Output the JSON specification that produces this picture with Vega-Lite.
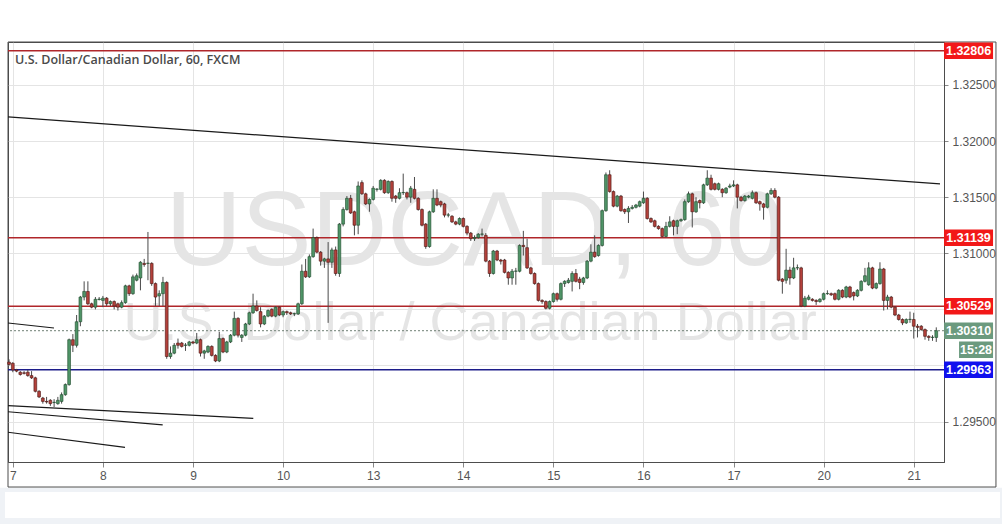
{
"$schema": "https://vega.github.io/schema/vega-lite/v6.json",
"width": 936, "height": 420,
"autosize": {"type": "none"},
"padding": {"left": 8, "top": 42, "right": 58, "bottom": 62},
"background": "#ffffff",
"config": {"view": {"stroke": "#4d4d4d", "strokeWidth": 1}, "font": "Liberation Sans"},
"datasets": {
"candles": [
{"t":-1,"o":1.3003,"h":1.30055,"l":1.3,"c":1.3001},
{"t":0,"o":1.3002,"h":1.3003,"l":1.2994,"c":1.2996},
{"t":1,"o":1.2996,"h":1.2997,"l":1.2994,"c":1.2995},
{"t":2,"o":1.2994,"h":1.2995,"l":1.2991,"c":1.2992},
{"t":3,"o":1.29935,"h":1.2995,"l":1.2992,"c":1.2993},
{"t":4,"o":1.2994,"h":1.2996,"l":1.299,"c":1.2991},
{"t":5,"o":1.2991,"h":1.2995,"l":1.2988,"c":1.2989},
{"t":6,"o":1.2989,"h":1.299,"l":1.2976,"c":1.2977},
{"t":7,"o":1.2977,"h":1.2978,"l":1.2971,"c":1.2972},
{"t":8,"o":1.2971,"h":1.2972,"l":1.2966,"c":1.2968},
{"t":9,"o":1.2968,"h":1.2972,"l":1.2966,"c":1.29675},
{"t":10,"o":1.2969,"h":1.297,"l":1.2964,"c":1.2966},
{"t":11,"o":1.2967,"h":1.297,"l":1.2963,"c":1.29672},
{"t":12,"o":1.2966,"h":1.2972,"l":1.2965,"c":1.2969},
{"t":13,"o":1.2968,"h":1.2976,"l":1.2966,"c":1.2974},
{"t":14,"o":1.2974,"h":1.2984,"l":1.2973,"c":1.2983},
{"t":15,"o":1.2983,"h":1.3024,"l":1.2982,"c":1.3023},
{"t":16,"o":1.3023,"h":1.3028,"l":1.3012,"c":1.3018},
{"t":17,"o":1.3018,"h":1.3045,"l":1.3016,"c":1.3039},
{"t":18,"o":1.3039,"h":1.3062,"l":1.3035,"c":1.3061},
{"t":19,"o":1.3061,"h":1.3075,"l":1.3058,"c":1.3066},
{"t":20,"o":1.3066,"h":1.3075,"l":1.3054,"c":1.3055},
{"t":21,"o":1.3055,"h":1.3056,"l":1.3051,"c":1.3052},
{"t":22,"o":1.3052,"h":1.3061,"l":1.305,"c":1.3059},
{"t":23,"o":1.30588,"h":1.3061,"l":1.3058,"c":1.30592},
{"t":24,"o":1.3058,"h":1.3062,"l":1.3052,"c":1.306},
{"t":25,"o":1.306,"h":1.3061,"l":1.3053,"c":1.3055},
{"t":26,"o":1.3055,"h":1.3058,"l":1.3053,"c":1.3057},
{"t":27,"o":1.3057,"h":1.3058,"l":1.305,"c":1.3053},
{"t":28,"o":1.3055,"h":1.3056,"l":1.3049,"c":1.3052},
{"t":29,"o":1.3052,"h":1.3058,"l":1.3051,"c":1.3056},
{"t":30,"o":1.3056,"h":1.3072,"l":1.3055,"c":1.3071},
{"t":31,"o":1.3071,"h":1.3072,"l":1.3062,"c":1.3064},
{"t":32,"o":1.3064,"h":1.3081,"l":1.3063,"c":1.3079},
{"t":33,"o":1.3076,"h":1.3082,"l":1.3075,"c":1.308},
{"t":34,"o":1.3078,"h":1.3093,"l":1.3067,"c":1.3092},
{"t":35,"o":1.3091,"h":1.3095,"l":1.3088,"c":1.309},
{"t":36,"o":1.3091,"h":1.3119,"l":1.3076,"c":1.30912},
{"t":37,"o":1.3091,"h":1.3092,"l":1.3071,"c":1.3073},
{"t":38,"o":1.3073,"h":1.3074,"l":1.3053,"c":1.3061},
{"t":39,"o":1.3062,"h":1.3067,"l":1.3053,"c":1.3064},
{"t":40,"o":1.3064,"h":1.3079,"l":1.3053,"c":1.3074},
{"t":41,"o":1.3074,"h":1.3075,"l":1.3006,"c":1.3008},
{"t":42,"o":1.3008,"h":1.3017,"l":1.3006,"c":1.3011},
{"t":43,"o":1.3011,"h":1.302,"l":1.301,"c":1.3018},
{"t":44,"o":1.302,"h":1.3024,"l":1.3015,"c":1.3018},
{"t":45,"o":1.302,"h":1.3021,"l":1.3016,"c":1.3017},
{"t":46,"o":1.3018,"h":1.302,"l":1.3013,"c":1.30182},
{"t":47,"o":1.3018,"h":1.3022,"l":1.3017,"c":1.3021},
{"t":48,"o":1.3021,"h":1.3022,"l":1.3019,"c":1.302},
{"t":49,"o":1.302,"h":1.3029,"l":1.3019,"c":1.3023},
{"t":50,"o":1.3023,"h":1.3024,"l":1.3008,"c":1.3011},
{"t":51,"o":1.3011,"h":1.3014,"l":1.3006,"c":1.3013},
{"t":52,"o":1.3012,"h":1.3018,"l":1.3011,"c":1.3017},
{"t":53,"o":1.3017,"h":1.3018,"l":1.3008,"c":1.3009},
{"t":54,"o":1.3009,"h":1.301,"l":1.3003,"c":1.3004},
{"t":55,"o":1.3004,"h":1.303,"l":1.3003,"c":1.3024},
{"t":56,"o":1.3024,"h":1.3025,"l":1.3011,"c":1.3012},
{"t":57,"o":1.3012,"h":1.3022,"l":1.3011,"c":1.3021},
{"t":58,"o":1.3021,"h":1.3028,"l":1.302,"c":1.3027},
{"t":59,"o":1.3027,"h":1.3048,"l":1.3026,"c":1.3042},
{"t":60,"o":1.3042,"h":1.3043,"l":1.3025,"c":1.3027},
{"t":61,"o":1.3025,"h":1.3028,"l":1.3021,"c":1.3027},
{"t":62,"o":1.3027,"h":1.3038,"l":1.3026,"c":1.3037},
{"t":63,"o":1.3037,"h":1.3048,"l":1.3036,"c":1.3047},
{"t":64,"o":1.3047,"h":1.3064,"l":1.3046,"c":1.3053},
{"t":65,"o":1.3053,"h":1.3058,"l":1.3048,"c":1.3049},
{"t":66,"o":1.3048,"h":1.3052,"l":1.3034,"c":1.3037},
{"t":67,"o":1.3037,"h":1.3045,"l":1.3036,"c":1.3044},
{"t":68,"o":1.3044,"h":1.305,"l":1.3043,"c":1.3049},
{"t":69,"o":1.305,"h":1.3051,"l":1.3043,"c":1.3044},
{"t":70,"o":1.3044,"h":1.3053,"l":1.3043,"c":1.3052},
{"t":71,"o":1.3052,"h":1.3053,"l":1.3044,"c":1.3045},
{"t":72,"o":1.3045,"h":1.3049,"l":1.3043,"c":1.3048},
{"t":73,"o":1.3048,"h":1.3049,"l":1.3045,"c":1.3047},
{"t":74,"o":1.3047,"h":1.3048,"l":1.3045,"c":1.3046},
{"t":75,"o":1.3046,"h":1.3047,"l":1.3044,"c":1.30462},
{"t":76,"o":1.3046,"h":1.3056,"l":1.3045,"c":1.3055},
{"t":77,"o":1.3055,"h":1.309,"l":1.3054,"c":1.3084},
{"t":78,"o":1.3084,"h":1.3095,"l":1.3078,"c":1.3079},
{"t":79,"o":1.3079,"h":1.3099,"l":1.3078,"c":1.3097},
{"t":80,"o":1.3097,"h":1.3122,"l":1.3096,"c":1.3114},
{"t":81,"o":1.3114,"h":1.3115,"l":1.31,"c":1.3101},
{"t":82,"o":1.3101,"h":1.3102,"l":1.3089,"c":1.3093},
{"t":83,"o":1.3093,"h":1.3096,"l":1.3087,"c":1.3095},
{"t":84,"o":1.3095,"h":1.311,"l":1.3038,"c":1.3092},
{"t":85,"o":1.3092,"h":1.3105,"l":1.3087,"c":1.3103},
{"t":86,"o":1.3103,"h":1.3106,"l":1.308,"c":1.3082},
{"t":87,"o":1.3082,"h":1.3127,"l":1.3079,"c":1.3126},
{"t":88,"o":1.3126,"h":1.3141,"l":1.3124,"c":1.3139},
{"t":89,"o":1.3139,"h":1.3151,"l":1.3138,"c":1.3149},
{"t":90,"o":1.3149,"h":1.3152,"l":1.3135,"c":1.3136},
{"t":91,"o":1.3137,"h":1.3138,"l":1.3116,"c":1.3125},
{"t":92,"o":1.3125,"h":1.3164,"l":1.3117,"c":1.316},
{"t":93,"o":1.3163,"h":1.3165,"l":1.3152,"c":1.3153},
{"t":94,"o":1.3153,"h":1.3154,"l":1.3143,"c":1.3144},
{"t":95,"o":1.3144,"h":1.3149,"l":1.3137,"c":1.3148},
{"t":96,"o":1.3148,"h":1.316,"l":1.3147,"c":1.3158},
{"t":97,"o":1.3157,"h":1.3158,"l":1.3155,"c":1.31572},
{"t":98,"o":1.3157,"h":1.3166,"l":1.3156,"c":1.3165},
{"t":99,"o":1.3165,"h":1.3166,"l":1.3153,"c":1.3154},
{"t":100,"o":1.3154,"h":1.3165,"l":1.3153,"c":1.3164},
{"t":101,"o":1.3164,"h":1.3165,"l":1.3146,"c":1.3149},
{"t":102,"o":1.3151,"h":1.3152,"l":1.3145,"c":1.3149},
{"t":103,"o":1.3149,"h":1.3158,"l":1.3148,"c":1.3154},
{"t":104,"o":1.3154,"h":1.3171,"l":1.3152,"c":1.31542},
{"t":105,"o":1.3154,"h":1.3155,"l":1.3148,"c":1.315},
{"t":106,"o":1.315,"h":1.316,"l":1.3145,"c":1.3158},
{"t":107,"o":1.3157,"h":1.3168,"l":1.3148,"c":1.3149},
{"t":108,"o":1.3149,"h":1.315,"l":1.3138,"c":1.3139},
{"t":109,"o":1.3139,"h":1.314,"l":1.3124,"c":1.3125},
{"t":110,"o":1.3126,"h":1.3127,"l":1.3104,"c":1.3106},
{"t":111,"o":1.3106,"h":1.3138,"l":1.3105,"c":1.3137},
{"t":112,"o":1.3137,"h":1.3157,"l":1.3136,"c":1.3149},
{"t":113,"o":1.3149,"h":1.3157,"l":1.3142,"c":1.3143},
{"t":114,"o":1.3146,"h":1.3147,"l":1.3141,"c":1.3143},
{"t":115,"o":1.3144,"h":1.3145,"l":1.3132,"c":1.3134},
{"t":116,"o":1.3134,"h":1.3136,"l":1.3132,"c":1.31342},
{"t":117,"o":1.3133,"h":1.3134,"l":1.3127,"c":1.3128},
{"t":118,"o":1.3128,"h":1.3129,"l":1.3125,"c":1.3126},
{"t":119,"o":1.3126,"h":1.3132,"l":1.3125,"c":1.3131},
{"t":120,"o":1.3131,"h":1.3132,"l":1.3123,"c":1.3124},
{"t":121,"o":1.3124,"h":1.3125,"l":1.3116,"c":1.3118},
{"t":122,"o":1.3118,"h":1.3119,"l":1.3111,"c":1.3113},
{"t":123,"o":1.3113,"h":1.3116,"l":1.3111,"c":1.3114},
{"t":124,"o":1.3114,"h":1.3118,"l":1.3113,"c":1.3117},
{"t":125,"o":1.3117,"h":1.3122,"l":1.3115,"c":1.31172},
{"t":126,"o":1.3116,"h":1.3118,"l":1.3092,"c":1.3093},
{"t":127,"o":1.3093,"h":1.3094,"l":1.3079,"c":1.3082},
{"t":128,"o":1.3082,"h":1.3103,"l":1.3081,"c":1.3102},
{"t":129,"o":1.3102,"h":1.3103,"l":1.3093,"c":1.3094},
{"t":130,"o":1.3094,"h":1.3095,"l":1.309,"c":1.3093},
{"t":131,"o":1.3094,"h":1.3095,"l":1.3082,"c":1.3083},
{"t":132,"o":1.3083,"h":1.3084,"l":1.3072,"c":1.3078},
{"t":133,"o":1.3078,"h":1.3086,"l":1.3072,"c":1.3084},
{"t":134,"o":1.3084,"h":1.3087,"l":1.3072,"c":1.30842},
{"t":135,"o":1.3084,"h":1.3108,"l":1.3083,"c":1.3107},
{"t":136,"o":1.3107,"h":1.312,"l":1.3098,"c":1.3106},
{"t":137,"o":1.3105,"h":1.3113,"l":1.3086,"c":1.3087},
{"t":138,"o":1.3087,"h":1.3088,"l":1.3081,"c":1.3082},
{"t":139,"o":1.3082,"h":1.3083,"l":1.3072,"c":1.3073},
{"t":140,"o":1.3073,"h":1.3074,"l":1.3057,"c":1.3058},
{"t":141,"o":1.3058,"h":1.3059,"l":1.3055,"c":1.3057},
{"t":142,"o":1.3057,"h":1.3058,"l":1.305,"c":1.3051},
{"t":143,"o":1.3051,"h":1.3058,"l":1.305,"c":1.3057},
{"t":144,"o":1.3057,"h":1.3065,"l":1.3056,"c":1.3064},
{"t":145,"o":1.3064,"h":1.3065,"l":1.3057,"c":1.3059},
{"t":146,"o":1.3059,"h":1.3074,"l":1.3058,"c":1.3073},
{"t":147,"o":1.3073,"h":1.3076,"l":1.307,"c":1.3075},
{"t":148,"o":1.3074,"h":1.3078,"l":1.3073,"c":1.3076},
{"t":149,"o":1.3075,"h":1.3084,"l":1.3066,"c":1.3082},
{"t":150,"o":1.3082,"h":1.3086,"l":1.3074,"c":1.3075},
{"t":151,"o":1.3077,"h":1.3079,"l":1.3068,"c":1.3074},
{"t":152,"o":1.3074,"h":1.3079,"l":1.3072,"c":1.3078},
{"t":153,"o":1.3078,"h":1.3094,"l":1.3077,"c":1.3093},
{"t":154,"o":1.3093,"h":1.3108,"l":1.3092,"c":1.3101},
{"t":155,"o":1.3101,"h":1.3116,"l":1.3096,"c":1.3097},
{"t":156,"o":1.3098,"h":1.3108,"l":1.3097,"c":1.3107},
{"t":157,"o":1.3107,"h":1.3139,"l":1.3106,"c":1.3138},
{"t":158,"o":1.3138,"h":1.3172,"l":1.3137,"c":1.317},
{"t":159,"o":1.317,"h":1.3174,"l":1.3154,"c":1.3155},
{"t":160,"o":1.3155,"h":1.3156,"l":1.3141,"c":1.3142},
{"t":161,"o":1.3142,"h":1.3152,"l":1.3141,"c":1.3151},
{"t":162,"o":1.3151,"h":1.3152,"l":1.3137,"c":1.3138},
{"t":163,"o":1.3139,"h":1.314,"l":1.3135,"c":1.3137},
{"t":164,"o":1.3137,"h":1.3142,"l":1.3127,"c":1.314},
{"t":165,"o":1.314,"h":1.3143,"l":1.3139,"c":1.3141},
{"t":166,"o":1.3141,"h":1.3144,"l":1.314,"c":1.3143},
{"t":167,"o":1.3142,"h":1.3147,"l":1.3141,"c":1.3146},
{"t":168,"o":1.3145,"h":1.3155,"l":1.3144,"c":1.3149},
{"t":169,"o":1.3149,"h":1.315,"l":1.313,"c":1.3131},
{"t":170,"o":1.3131,"h":1.3132,"l":1.3127,"c":1.3128},
{"t":171,"o":1.3129,"h":1.313,"l":1.3123,"c":1.3124},
{"t":172,"o":1.3124,"h":1.3125,"l":1.3121,"c":1.3122},
{"t":173,"o":1.3122,"h":1.3123,"l":1.3114,"c":1.3115},
{"t":174,"o":1.3115,"h":1.3128,"l":1.3114,"c":1.3124},
{"t":175,"o":1.3124,"h":1.3133,"l":1.3123,"c":1.3128},
{"t":176,"o":1.3129,"h":1.313,"l":1.3116,"c":1.3124},
{"t":177,"o":1.3124,"h":1.313,"l":1.3117,"c":1.3129},
{"t":178,"o":1.3129,"h":1.3131,"l":1.3128,"c":1.313},
{"t":179,"o":1.313,"h":1.3148,"l":1.3129,"c":1.3146},
{"t":180,"o":1.3146,"h":1.3155,"l":1.3145,"c":1.3153},
{"t":181,"o":1.3153,"h":1.3154,"l":1.3123,"c":1.3137},
{"t":182,"o":1.3137,"h":1.315,"l":1.3136,"c":1.3146},
{"t":183,"o":1.3147,"h":1.3148,"l":1.314,"c":1.3145},
{"t":184,"o":1.3145,"h":1.3162,"l":1.3144,"c":1.3161},
{"t":185,"o":1.3161,"h":1.3174,"l":1.316,"c":1.3167},
{"t":186,"o":1.3167,"h":1.317,"l":1.3156,"c":1.3157},
{"t":187,"o":1.3162,"h":1.3163,"l":1.3156,"c":1.3157},
{"t":188,"o":1.3157,"h":1.3163,"l":1.3156,"c":1.3162},
{"t":189,"o":1.3157,"h":1.3158,"l":1.315,"c":1.3154},
{"t":190,"o":1.3154,"h":1.3159,"l":1.3153,"c":1.3158},
{"t":191,"o":1.3159,"h":1.3162,"l":1.3158,"c":1.316},
{"t":192,"o":1.316,"h":1.3165,"l":1.3159,"c":1.3161},
{"t":193,"o":1.3161,"h":1.3162,"l":1.314,"c":1.315},
{"t":194,"o":1.315,"h":1.3151,"l":1.3146,"c":1.3147},
{"t":195,"o":1.3147,"h":1.3152,"l":1.3146,"c":1.3151},
{"t":196,"o":1.315,"h":1.3152,"l":1.3149,"c":1.3151},
{"t":197,"o":1.3149,"h":1.3156,"l":1.3148,"c":1.3154},
{"t":198,"o":1.3154,"h":1.3155,"l":1.3144,"c":1.3145},
{"t":199,"o":1.3146,"h":1.3147,"l":1.3138,"c":1.3144},
{"t":200,"o":1.3144,"h":1.3145,"l":1.313,"c":1.3141},
{"t":201,"o":1.3141,"h":1.3154,"l":1.314,"c":1.3153},
{"t":202,"o":1.3153,"h":1.3158,"l":1.3152,"c":1.3156},
{"t":203,"o":1.3156,"h":1.3158,"l":1.3149,"c":1.315},
{"t":204,"o":1.315,"h":1.3151,"l":1.3075,"c":1.3076},
{"t":205,"o":1.3077,"h":1.3078,"l":1.3064,"c":1.3075},
{"t":206,"o":1.3076,"h":1.3104,"l":1.3073,"c":1.3085},
{"t":207,"o":1.3085,"h":1.3088,"l":1.3072,"c":1.3078},
{"t":208,"o":1.3078,"h":1.3096,"l":1.3077,"c":1.3087},
{"t":209,"o":1.3087,"h":1.309,"l":1.3085,"c":1.30872},
{"t":210,"o":1.3087,"h":1.3088,"l":1.3052,"c":1.3053},
{"t":211,"o":1.3053,"h":1.3062,"l":1.3052,"c":1.306},
{"t":212,"o":1.3059,"h":1.3063,"l":1.3058,"c":1.3061},
{"t":213,"o":1.3059,"h":1.306,"l":1.3057,"c":1.3058},
{"t":214,"o":1.3058,"h":1.3059,"l":1.3054,"c":1.3057},
{"t":215,"o":1.3057,"h":1.306,"l":1.3056,"c":1.3059},
{"t":216,"o":1.3059,"h":1.3065,"l":1.3058,"c":1.3064},
{"t":217,"o":1.3064,"h":1.3067,"l":1.3063,"c":1.30642},
{"t":218,"o":1.3064,"h":1.3065,"l":1.3062,"c":1.3063},
{"t":219,"o":1.3064,"h":1.3065,"l":1.3058,"c":1.3059},
{"t":220,"o":1.3059,"h":1.3068,"l":1.3058,"c":1.3067},
{"t":221,"o":1.3067,"h":1.3068,"l":1.306,"c":1.3061},
{"t":222,"o":1.3061,"h":1.3071,"l":1.306,"c":1.307},
{"t":223,"o":1.307,"h":1.3071,"l":1.306,"c":1.3061},
{"t":224,"o":1.3065,"h":1.3066,"l":1.3058,"c":1.3062},
{"t":225,"o":1.3062,"h":1.3068,"l":1.3061,"c":1.3067},
{"t":226,"o":1.3067,"h":1.3076,"l":1.3066,"c":1.3075},
{"t":227,"o":1.3075,"h":1.3087,"l":1.3074,"c":1.308},
{"t":228,"o":1.3072,"h":1.3092,"l":1.3071,"c":1.3087},
{"t":229,"o":1.3087,"h":1.3088,"l":1.3068,"c":1.3069},
{"t":230,"o":1.3069,"h":1.3074,"l":1.3068,"c":1.3073},
{"t":231,"o":1.3073,"h":1.3092,"l":1.3072,"c":1.3086},
{"t":232,"o":1.3086,"h":1.3087,"l":1.3049,"c":1.3058},
{"t":233,"o":1.3058,"h":1.3063,"l":1.305,"c":1.3061},
{"t":234,"o":1.3061,"h":1.3062,"l":1.3051,"c":1.3052},
{"t":235,"o":1.3052,"h":1.3053,"l":1.3044,"c":1.3045},
{"t":236,"o":1.3045,"h":1.3046,"l":1.304,"c":1.3041},
{"t":237,"o":1.3041,"h":1.3042,"l":1.3036,"c":1.3038},
{"t":238,"o":1.3038,"h":1.3042,"l":1.3037,"c":1.3041},
{"t":239,"o":1.3041,"h":1.3048,"l":1.3038,"c":1.30412},
{"t":240,"o":1.3041,"h":1.3047,"l":1.3024,"c":1.3035},
{"t":241,"o":1.3035,"h":1.3037,"l":1.3025,"c":1.3034},
{"t":242,"o":1.3035,"h":1.3036,"l":1.3031,"c":1.3032},
{"t":243,"o":1.3032,"h":1.3033,"l":1.3023,"c":1.3026},
{"t":244,"o":1.3026,"h":1.3027,"l":1.3022,"c":1.3025},
{"t":245,"o":1.3025,"h":1.3027,"l":1.3022,"c":1.30252},
{"t":246,"o":1.3025,"h":1.3034,"l":1.3021,"c":1.3031}
],
"levels": [
{"price":1.32806,"kind":"resistance"},
{"price":1.31139,"kind":"resistance"},
{"price":1.30529,"kind":"resistance"},
{"price":1.29963,"kind":"support"}
],
"trend": [
{"id":"main","t":-1.28,"p":1.32215},{"id":"main","t":247,"p":1.31618},
{"id":"a","t":-1.28,"p":1.30379},{"id":"a","t":10.97,"p":1.30334},
{"id":"b","t":-1.28,"p":1.29642},{"id":"b","t":64.06,"p":1.29529},
{"id":"c","t":-1.28,"p":1.29588},{"id":"c","t":39.93,"p":1.2947},
{"id":"d","t":-1.28,"p":1.29405},{"id":"d","t":29.89,"p":1.29271}
],
"last": [{"price":1.3031,"remaining":"15:28"}]
},
"layer": [
{
"data": {"values": [{}]},
"mark": {"type":"rect","fill":"#eff2f6","strokeWidth":0,"clip":false},
"encoding": {
"x": {"datum": -3.5, "type":"quantitative", "scale": {"domain": [-1.28, 248.06], "nice": false, "zero": false, "padding": 0}},
"x2": {"datum": 265},
"y": {"datum": 1.28911, "type":"quantitative", "scale": {"domain": [1.2914, 1.32883], "nice": false, "zero": false, "padding": 0}},
"y2": {"datum": 1.2858}
}
},
{
"data": {"values": [{}]},
"mark": {"type":"rect","fill":"#ffffff","strokeWidth":0,"clip":false},
"encoding": {
"x": {"datum": -2.08, "type":"quantitative"},
"x2": {"datum": 262.97},
"y": {"datum": 1.28873, "type":"quantitative"},
"y2": {"datum": 1.28641}
}
},
{
"data": {"values": [{}]},
"mark": {"type":"rect","fill":null,"stroke":"#4d4d4d","strokeWidth":1,"clip":false},
"encoding": {
"x": {"datum": -1.28, "type":"quantitative"},
"x2": {"datum": 261.9},
"y": {"datum": 1.32883, "type":"quantitative"},
"y2": {"datum": 1.28917}
}
},
{
"data": {"values": [{}]},
"mark": {"type":"text","text":"USDCAD, 60","font":"Liberation Sans","fontSize":105,"color":"#e5e5e5","align":"center","baseline":"alphabetic"},
"encoding": {"x": {"datum": 123.1, "type":"quantitative"}, "y": {"datum": 1.30896, "type":"quantitative"}}
},
{
"data": {"values": [{}]},
"mark": {"type":"text","text":"U.S. Dollar / Canadian Dollar","font":"Liberation Sans","fontSize":54,"color":"#e5e5e5","align":"center","baseline":"alphabetic"},
"encoding": {"x": {"datum": 121.8, "type":"quantitative"}, "y": {"datum": 1.30227, "type":"quantitative"}}
},
{
"data": {"values": [{}]},
"mark": {"type":"text","text":"U.S. Dollar/Canadian Dollar, 60, FXCM","font":"Open Sans","fontWeight":600,"fontSize":12.5,"color":"#4a4a4a","align":"left","baseline":"middle"},
"encoding": {"x": {"datum": 0.59, "type":"quantitative"}, "y": {"datum": 1.32723, "type":"quantitative"}}
},
{
"data": {"name": "trend"},
"mark": {"type":"line","color":"#1a1a1a","strokeWidth":1.2,"clip":true},
"encoding": {"x": {"field":"t","type":"quantitative"}, "y": {"field":"p","type":"quantitative"}, "detail": {"field":"id"}}
},
{
"data": {"name": "levels"},
"mark": {"type":"rule","strokeWidth":1.5},
"encoding": {
"y": {"field":"price","type":"quantitative"},
"stroke": {"field":"kind","type":"nominal","scale": {"domain":["resistance","support"],"range":["#b0262a","#1c1c8a"]},"legend":null}
}
},
{
"data": {"name": "last"},
"mark": {"type":"rule","strokeWidth":1,"strokeDash":[2,2],"color":"#6f7f74"},
"encoding": {"y": {"field":"price","type":"quantitative"}}
},
{
"data": {"name": "candles"},
"mark": {"type":"rule","color":"#4a4a4a","strokeWidth":1},
"encoding": {
"x": {"field":"t","type":"quantitative",
"axis": {"values":[0,24,48,72,96,120,144,168,192,216,240],"labelExpr":"['7','8','9','10','13','14','15','16','17','20','21'][round(datum.value/24)]","title":null,"grid":true,"gridColor":"#e4e4e4","domainColor":"#4d4d4d","tickColor":"#888888","tickSize":5,"labelColor":"#555555","labelFontSize":12,"labelFont":"Liberation Sans","labelPadding":3}},
"y": {"field":"l","type":"quantitative",
"axis": {"orient":"right","values":[1.295,1.3,1.305,1.31,1.315,1.32,1.325],"labelExpr":"datum.value == 1.3 || datum.value == 1.305 ? '' : format(datum.value, '.5f')","title":null,"grid":true,"gridColor":"#e4e4e4","domainColor":"#4d4d4d","tickColor":"#888888","tickSize":4,"labelColor":"#555555","labelFontSize":12,"labelFont":"Liberation Sans","labelPadding":4}},
"y2": {"field":"h"}
}
},
{
"data": {"name": "candles"},
"mark": {"type":"bar","size":2.8,"strokeWidth":0.6,"orient":"vertical"},
"encoding": {
"x": {"field":"t","type":"quantitative"},
"y": {"field":"o","type":"quantitative"},
"y2": {"field":"c"},
"fill": {"condition": {"test":"datum.c >= datum.o","value":"#4f9467"},"value":"#b3413b"},
"stroke": {"condition": {"test":"datum.c >= datum.o","value":"#1f4a2c"},"value":"#4a1410"}
}
},
{
"data": {"name": "levels"},
"mark": {"type":"point","shape":"M-0.98,-0.33H0.98V0.33H-0.98Z","size":2500,"filled":true,"opacity":1,"strokeWidth":0,"clip":false},
"encoding": {
"x": {"datum": 254.6, "type":"quantitative"},
"y": {"field":"price","type":"quantitative"},
"fill": {"field":"kind","type":"nominal","scale": {"domain":["resistance","support"],"range":["#f21818","#1010ee"]},"legend":null}
}
},
{
"data": {"name": "levels"},
"mark": {"type":"text","color":"#ffffff","fontWeight":"bold","fontSize":12.5,"font":"Liberation Sans","align":"center","baseline":"middle","clip":false},
"encoding": {
"x": {"datum": 254.6, "type":"quantitative"},
"y": {"field":"price","type":"quantitative"},
"text": {"field":"price","type":"quantitative","format":".5f"}
}
},
{
"data": {"name": "last"},
"mark": {"type":"point","shape":"M-0.98,-0.33H0.98V0.33H-0.98ZM-0.38,0.43H0.98V1.09H-0.38Z","size":2500,"filled":true,"opacity":1,"strokeWidth":0,"color":"#6b9a7e","clip":false},
"encoding": {"x": {"datum": 254.6, "type":"quantitative"}, "y": {"field":"price","type":"quantitative"}}
},
{
"data": {"name": "last"},
"mark": {"type":"text","color":"#ffffff","fontWeight":"bold","fontSize":12.5,"font":"Liberation Sans","align":"center","baseline":"middle","clip":false},
"encoding": {"x": {"datum": 254.6, "type":"quantitative"}, "y": {"field":"price","type":"quantitative"}, "text": {"field":"price","type":"quantitative","format":".5f"}}
},
{
"data": {"name": "last"},
"mark": {"type":"text","color":"#ffffff","fontWeight":"bold","fontSize":12.5,"font":"Liberation Sans","align":"center","baseline":"middle","dx":7.5,"dy":19,"clip":false},
"encoding": {"x": {"datum": 254.6, "type":"quantitative"}, "y": {"field":"price","type":"quantitative"}, "text": {"field":"remaining"}}
}
]
}
